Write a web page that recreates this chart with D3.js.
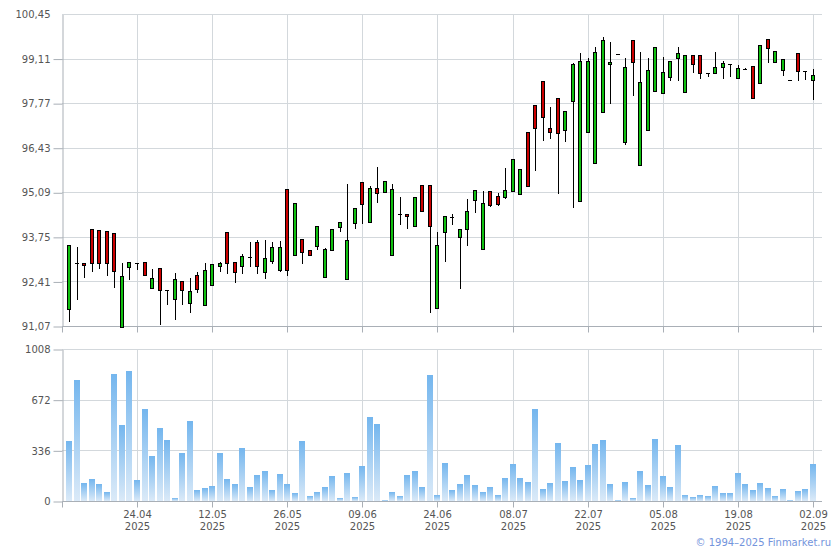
<!DOCTYPE html>
<html><head><meta charset="utf-8">
<script src="https://cdn.jsdelivr.net/npm/d3@7/dist/d3.min.js"></script>
<style>
body{margin:0;background:#fff}
svg{display:block}
text{font-family:"DejaVu Sans",Verdana,sans-serif;font-size:10px;fill:#555}
</style>
</head><body>
<svg id="c" width="840" height="550"></svg>
<script>
const dates = ["11.04.2025","14.04.2025","15.04.2025","16.04.2025","17.04.2025","18.04.2025","21.04.2025","22.04.2025","23.04.2025","24.04.2025",
"25.04.2025","28.04.2025","29.04.2025","30.04.2025","02.05.2025","05.05.2025","06.05.2025","07.05.2025","08.05.2025","12.05.2025",
"13.05.2025","14.05.2025","15.05.2025","16.05.2025","19.05.2025","20.05.2025","21.05.2025","22.05.2025","23.05.2025","26.05.2025",
"27.05.2025","28.05.2025","29.05.2025","30.05.2025","02.06.2025","03.06.2025","04.06.2025","05.06.2025","06.06.2025","09.06.2025",
"10.06.2025","11.06.2025","13.06.2025","16.06.2025","17.06.2025","18.06.2025","19.06.2025","20.06.2025","23.06.2025","24.06.2025",
"25.06.2025","26.06.2025","27.06.2025","30.06.2025","01.07.2025","02.07.2025","03.07.2025","04.07.2025","07.07.2025","08.07.2025",
"09.07.2025","10.07.2025","11.07.2025","14.07.2025","15.07.2025","16.07.2025","17.07.2025","18.07.2025","21.07.2025","22.07.2025",
"23.07.2025","24.07.2025","25.07.2025","28.07.2025","29.07.2025","30.07.2025","31.07.2025","01.08.2025","04.08.2025","05.08.2025",
"06.08.2025","07.08.2025","08.08.2025","11.08.2025","12.08.2025","13.08.2025","14.08.2025","15.08.2025","18.08.2025","19.08.2025",
"20.08.2025","21.08.2025","22.08.2025","25.08.2025","26.08.2025","27.08.2025","28.08.2025","29.08.2025","01.09.2025","02.09.2025"];

const open = [91.61,92.99,92.99,93.99,93.96,93.93,93.87,91.07,92.85,92.99,
93.00,92.22,92.82,92.16,91.89,92.43,91.77,92.61,91.71,92.31,
92.88,93.90,93.00,92.90,93.15,93.60,92.70,93.03,92.76,95.21,
93.21,93.69,93.36,93.48,92.55,93.36,94.05,92.49,94.17,95.40,
94.20,95.22,95.10,93.21,94.44,94.44,94.08,95.31,95.31,91.62,
93.90,94.35,93.75,93.99,94.86,93.39,95.13,94.98,94.95,95.13,
95.04,96.93,97.74,98.46,97.05,97.95,96.99,97.86,94.83,96.93,
96.00,97.53,98.97,99.27,96.63,99.69,95.94,96.99,98.16,98.10,
98.58,99.15,98.13,99.24,99.24,98.70,98.70,98.88,98.97,98.55,
98.82,98.91,98.40,99.72,99.03,98.79,98.49,99.30,98.76,98.49];

const high = [93.51,93.47,92.99,93.99,93.96,93.93,93.87,92.97,93.00,92.99,
93.00,92.79,92.82,92.16,92.67,92.43,92.52,92.70,92.97,92.94,
93.01,93.90,93.00,93.25,93.60,93.67,93.67,93.60,93.63,95.21,
94.77,93.69,93.36,94.08,93.42,93.99,94.20,95.34,94.62,95.40,
95.28,95.88,95.43,95.34,94.95,94.44,94.95,95.31,95.31,93.90,
94.38,94.44,93.99,94.89,95.16,95.13,95.13,95.07,95.85,96.12,
95.82,96.93,97.74,98.46,97.68,97.95,97.56,99.00,99.30,99.15,
99.48,99.78,99.63,99.27,99.15,99.69,99.33,99.15,99.48,99.18,
99.06,99.48,99.24,99.24,99.24,98.70,99.33,99.06,98.97,98.94,
98.85,98.91,99.54,99.72,99.36,99.12,98.49,99.30,98.76,98.82];

const low = [91.25,91.91,92.55,92.75,92.84,92.63,92.27,91.07,92.49,92.79,
92.63,92.22,91.14,91.74,91.29,91.74,91.52,92.12,91.71,92.31,
92.75,92.67,92.42,92.67,92.90,92.67,92.52,92.97,92.73,92.61,
93.21,92.97,93.21,93.39,92.55,93.36,93.93,92.49,94.02,94.17,
94.20,94.80,95.10,93.21,94.14,94.02,94.08,94.53,91.50,91.62,
93.03,94.14,92.22,93.51,94.50,93.39,94.68,94.71,94.92,95.13,
95.04,95.28,95.76,96.69,96.75,95.07,96.66,94.67,94.83,96.93,
96.00,97.53,97.79,99.27,96.57,98.03,95.94,96.99,98.16,98.10,
98.49,98.49,98.13,98.73,98.55,98.61,98.70,98.55,98.61,98.55,
98.82,97.95,98.40,99.03,99.03,98.64,98.49,98.49,98.52,97.92];

const close = [93.51,92.99,92.92,92.99,92.99,92.99,92.75,92.58,93.00,92.99,
92.63,92.52,92.16,92.16,92.49,92.16,92.13,92.19,92.76,92.94,
92.97,92.99,92.70,93.18,93.15,92.90,93.12,93.45,93.45,92.76,
94.77,93.30,93.21,94.08,93.39,93.99,94.20,93.66,94.62,94.74,
95.22,95.07,95.43,95.19,94.44,94.38,94.95,94.53,94.08,93.51,
94.38,94.35,93.99,94.53,95.16,94.77,94.71,94.74,95.16,96.12,
95.82,95.28,97.05,97.38,96.93,96.90,97.56,98.97,99.06,99.06,
99.33,99.69,99.03,99.27,98.88,99.03,98.43,98.79,99.48,98.73,
99.06,99.30,99.24,98.97,98.70,98.70,98.88,99.00,98.97,98.85,
98.82,97.95,99.54,99.45,99.36,99.12,98.49,98.76,98.76,98.64];

const volume = [400,805,122,148,115,62,844,506,864,141,
612,301,486,407,22,321,533,75,88,102,
321,148,115,354,95,175,201,75,181,115,
55,400,35,62,95,168,22,188,29,234,
559,513,9,62,35,175,201,95,838,42,
254,75,115,175,108,62,95,42,155,248,
155,128,612,82,122,387,135,228,141,241,
380,407,115,9,128,22,201,108,413,168,
95,374,42,29,42,35,102,55,55,188,
115,75,122,88,35,82,9,69,82,248];

const priceTicks = [91.07,92.41,93.75,95.09,96.43,97.77,99.11,100.45];
const volumeTicks = [0,336,672,1008];
const dateTicks = ["24.04.2025","12.05.2025","26.05.2025","09.06.2025","24.06.2025","08.07.2025","22.07.2025","05.08.2025","19.08.2025","02.09.2025"];
const copyright = "© 1994–2025 Finmarket.ru";

const svg = d3.select("#c");
const L = 62, R = 822;
const gridColor = "#d3d8dc", axisColor = "#a9afb6";
const upColor = "#10c010", downColor = "#cc0000";

const idx = d3.range(dates.length);
const x = d3.scaleLinear().domain([9, 99]).range([137.5, 813.5]);
const xFull = x.copy().domain([x.invert(L), x.invert(R)]).range([L, R]);
const tickIdx = dateTicks.map(d => dates.indexOf(d));

const yP = d3.scaleLinear().domain([91.07, 100.45]).range([326.5, 14.5]);
const yV = d3.scaleLinear().domain([0, 1008]).range([501.5, 349.5]);

const col = i => Math.floor(x(i)) + 0.5;

// ---------- grids ----------
function grids(y, ticks, top, bottom) {
  const g = svg.append("g");
  g.selectAll(".h").data(ticks).join("line")
    .attr("x1", L).attr("x2", R)
    .attr("y1", d => Math.round(y(d) - 0.5) + 0.5).attr("y2", d => Math.round(y(d) - 0.5) + 0.5)
    .attr("stroke", gridColor);
  g.selectAll(".v").data(tickIdx).join("line")
    .attr("x1", d => col(d)).attr("x2", d => col(d))
    .attr("y1", top).attr("y2", bottom)
    .attr("stroke", gridColor);
}
grids(yP, priceTicks, 14.5, 326.5);
grids(yV, volumeTicks, 349.5, 501.5);

// ---------- axes ----------
const fmt = d => d.toFixed(2).replace(".", ",");
const ayP = svg.append("g").attr("transform", `translate(${L + 0.5},0)`)
  .call(d3.axisLeft(yP).tickValues(priceTicks).tickFormat(fmt).tickSize(9).tickSizeOuter(0).tickPadding(3));
const ayV = svg.append("g").attr("transform", `translate(${L + 0.5},0)`)
  .call(d3.axisLeft(yV).tickValues(volumeTicks).tickFormat(d3.format("d")).tickSize(9).tickSizeOuter(0).tickPadding(3));
[ayP, ayV].forEach(a => {
  a.select(".domain").attr("stroke", axisColor);
  a.selectAll(".tick line").attr("stroke", axisColor);
  a.selectAll(".tick text").attr("fill", "#555").style("font-family", "DejaVu Sans").style("font-size", "10px");
  a.attr("font-family", null).attr("font-size", null);
});
ayP.selectAll(".tick").filter(d => d === 100.45).select("line").remove();

function bottomAxis(yb, labels) {
  const a = svg.append("g").attr("transform", `translate(0,${yb})`)
    .call(d3.axisBottom(xFull).tickValues(tickIdx).tickSize(6).tickSizeOuter(6)
      .tickFormat(i => labels ? dates[i].slice(0, 5) : ""));
  a.select(".domain").attr("stroke", axisColor).attr("d", `M${L + 0.5},6V0H${R}`);
  a.selectAll(".tick").attr("transform", d => `translate(${col(d)},0)`);
  a.selectAll(".tick line").attr("stroke", axisColor);
  a.attr("font-family", null).attr("font-size", null);
  if (labels) {
    a.selectAll(".tick text").each(function(i) {
      const t = d3.select(this).text(null).attr("y", 0).attr("dy", null).attr("fill", "#555");
      t.append("tspan").attr("x", 0).attr("y", 16).text(dates[i].slice(0, 5));
      t.append("tspan").attr("x", 0).attr("y", 28).text(dates[i].slice(6));
    });
  }
}
bottomAxis(326.5, false);
bottomAxis(501.5, true);

// ---------- volume ----------
const defs = svg.append("defs");
const grad = defs.append("linearGradient").attr("id", "vg")
  .attr("x1", 0).attr("y1", 0).attr("x2", 0).attr("y2", 1);
grad.append("stop").attr("offset", "0%").attr("stop-color", "#74b6ee");
grad.append("stop").attr("offset", "100%").attr("stop-color", "#dbeaf8");

svg.append("g").selectAll("rect").data(idx).join("rect")
  .attr("x", i => Math.floor(x(i)) - 3)
  .attr("width", 6)
  .attr("y", i => Math.round(yV(volume[i])))
  .attr("height", i => Math.max(1, 501 - Math.round(yV(volume[i]))))
  .attr("fill", "url(#vg)");

// ---------- candles ----------
const cg = svg.append("g");
cg.selectAll("line.w").data(idx).join("line")
  .attr("x1", col).attr("x2", col)
  .attr("y1", i => Math.round(yP(high[i]))).attr("y2", i => Math.round(yP(low[i])) + 1)
  .attr("stroke", "#000");
const isDoji = i => Math.abs(open[i] - close[i]) < 0.015;
cg.selectAll("rect").data(idx.filter(i => !isDoji(i))).join("rect")
  .attr("x", i => Math.floor(x(i)) - 1.5)
  .attr("width", 3)
  .attr("y", i => Math.round(yP(Math.max(open[i], close[i]))) + 0.5)
  .attr("height", i => Math.max(1, Math.round(yP(Math.min(open[i], close[i]))) - Math.round(yP(Math.max(open[i], close[i])))))
  .attr("fill", i => close[i] >= open[i] ? upColor : downColor)
  .attr("stroke", "#000").attr("stroke-width", 1);
cg.selectAll("line.d").data(idx.filter(isDoji)).join("line")
  .attr("x1", i => Math.floor(x(i)) - 2).attr("x2", i => Math.floor(x(i)) + 2)
  .attr("y1", i => Math.round(yP(open[i])) + 0.5).attr("y2", i => Math.round(yP(open[i])) + 0.5)
  .attr("stroke", "#000");

// ---------- copyright ----------
svg.append("text").attr("x", 831).attr("y", 546).attr("text-anchor", "end")
  .style("fill", "#7394dc").text(copyright);
</script>
</body></html>
